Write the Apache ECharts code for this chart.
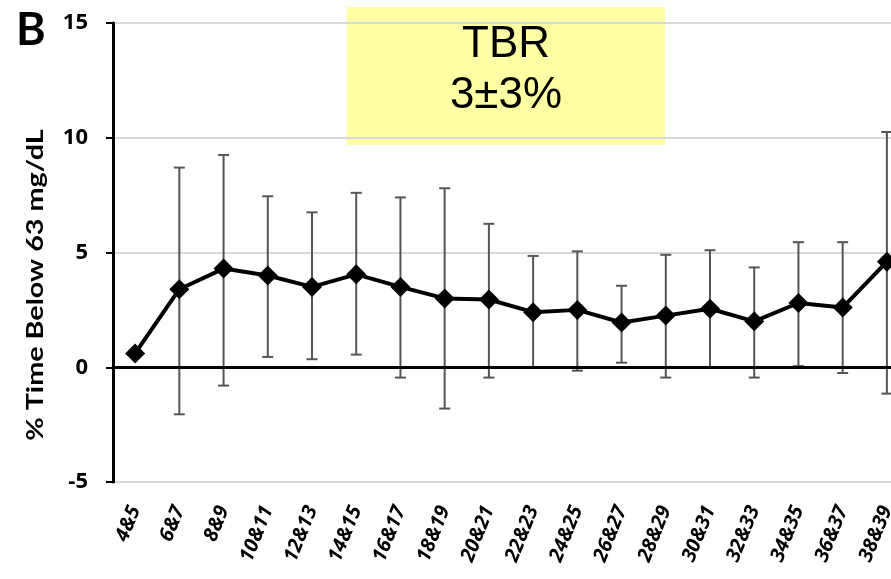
<!DOCTYPE html>
<html>
<head>
<meta charset="utf-8">
<script src="https://cdn.jsdelivr.net/npm/echarts@6/dist/echarts.min.js"></script>
<style>
html,body{margin:0;padding:0;background:#fff;}
#chart{width:891px;height:579px;}
</style>
</head>
<body>
<div id="chart"></div>
<script>
var categories = ['4&5','6&7','8&9','10&11','12&13','14&15','16&17','18&19','20&21','22&23','24&25','26&27','28&29','30&31','32&33','34&35','36&37','38&39'];
var meanValues = [0.6, 3.4, 4.3, 4.0, 3.5, 4.05, 3.5, 3.0, 2.95, 2.4, 2.5, 1.95, 2.25, 2.55, 2.0, 2.8, 2.6, 4.6];
var upperValues = [null, 8.7, 9.25, 7.45, 6.75, 7.6, 7.4, 7.8, 6.25, 4.85, 5.05, 3.55, 4.9, 5.1, 4.35, 5.45, 5.45, 10.25];
var lowerValues = [null, -2.05, -0.8, 0.45, 0.35, 0.55, -0.45, -1.8, -0.45, 0.0, -0.15, 0.2, -0.45, 0.0, -0.45, 0.05, -0.25, -1.15];
var yTicks = {min: -5, max: 15, interval: 5};
var yAxisTitle = '% Time Below 63 mg/dL';
var panelLetter = 'B';
var boxLines = ['TBR', '3\u00b13%'];

var errData = [];
for (var i = 0; i < categories.length; i++) {
  if (upperValues[i] !== null && lowerValues[i] !== null) {
    errData.push([i, lowerValues[i], upperValues[i]]);
  }
}

var chart = echarts.init(document.getElementById('chart'), null, {renderer: 'canvas'});
var option = {
  backgroundColor: '#ffffff',
  animation: false,
  grid: {left: 113, top: 23, width: 796, height: 459, containLabel: false, outerBoundsMode: 'none'},
  xAxis: {
    type: 'category',
    data: categories,
    boundaryGap: true,
    axisLine: {show: false, onZero: false},
    axisTick: {show: false},
    splitLine: {show: false},
    axisLabel: {
      interval: 0,
      rotate: 68,
      margin: 25,
      color: '#000',
      fontFamily: 'Open Sans',
      fontWeight: 'bold',
      fontStyle: 'italic',
      fontSize: 20
    }
  },
  yAxis: {
    type: 'value',
    min: yTicks.min,
    max: yTicks.max,
    interval: yTicks.interval,
    axisLine: {show: true, lineStyle: {color: '#000', width: 3}},
    axisTick: {show: true, length: 7, lineStyle: {color: '#000', width: 2}},
    splitLine: {show: true, lineStyle: {color: '#d9d9d9', width: 2}},
    axisLabel: {
      margin: 25,
      color: '#000',
      fontFamily: 'Open Sans',
      fontWeight: 'bold',
      fontSize: 22
    }
  },
  series: [
    {
      type: 'custom',
      name: 'sd',
      z: 2,
      renderItem: function (params, api) {
        var x = api.value(0);
        var lo = api.coord([x, api.value(1)]);
        var hi = api.coord([x, api.value(2)]);
        var cap = 5.5;
        var style = {stroke: '#555555', lineWidth: 2};
        return {
          type: 'group',
          children: [
            {type: 'line', shape: {x1: hi[0], y1: hi[1], x2: lo[0], y2: lo[1]}, style: style},
            {type: 'line', shape: {x1: hi[0] - cap, y1: hi[1], x2: hi[0] + cap, y2: hi[1]}, style: style},
            {type: 'line', shape: {x1: lo[0] - cap, y1: lo[1], x2: lo[0] + cap, y2: lo[1]}, style: style}
          ]
        };
      },
      encode: {x: 0, y: [1, 2]},
      data: errData
    },
    {
      type: 'line',
      name: 'mean',
      z: 4,
      data: meanValues,
      symbol: 'diamond',
      symbolSize: 20,
      lineStyle: {color: '#000', width: 4},
      itemStyle: {color: '#000'},
      markLine: {
        silent: true,
        symbol: 'none',
        label: {show: false},
        lineStyle: {color: '#000', width: 3, type: 'solid'},
        data: [{yAxis: 0}],
        z: 3
      }
    }
  ],
  graphic: [
    {
      type: 'text',
      left: 16,
      top: 8,
      style: {text: panelLetter, fontFamily: 'Lato', fontWeight: 'bold', fontSize: 45, fill: '#000'}
    },
    {
      type: 'text',
      x: 36,
      y: 285,
      rotation: Math.PI / 2,
      scaleX: 1.25,
      style: {
        text: yAxisTitle,
        fontFamily: 'Lato',
        fontWeight: 'bold',
        fontSize: 23,
        fill: '#000',
        align: 'center',
        verticalAlign: 'middle'
      }
    },
    {
      type: 'group',
      z: 100,
      children: [
        {
          type: 'rect',
          shape: {x: 347, y: 7, width: 318, height: 138},
          style: {fill: '#ffffa3'}
        },
        {
          type: 'text',
          x: 506,
          y: 45,
          style: {text: boxLines[0], fontFamily: 'Liberation Sans', fontSize: 44, fill: '#000', align: 'center', verticalAlign: 'middle'}
        },
        {
          type: 'text',
          x: 506,
          y: 96,
          style: {text: boxLines[1], fontFamily: 'Liberation Sans', fontSize: 44, fill: '#000', align: 'center', verticalAlign: 'middle'}
        }
      ]
    }
  ]
};
chart.setOption(option);
</script>
</body>
</html>
